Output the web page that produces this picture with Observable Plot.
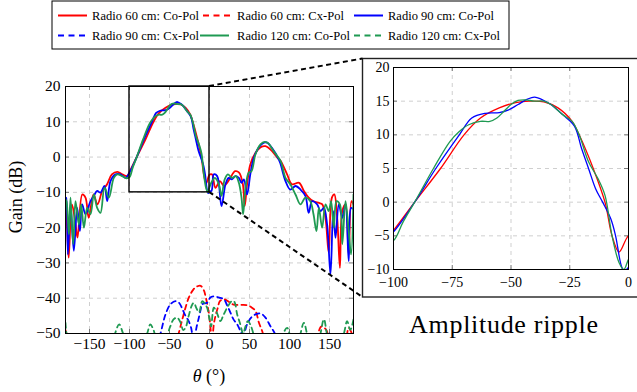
<!DOCTYPE html>
<html><head><meta charset="utf-8">
<script src="https://cdn.jsdelivr.net/npm/d3@7"></script>
<script src="https://cdn.jsdelivr.net/npm/@observablehq/plot@0.6"></script>
<style>
body{margin:0;background:#fff;}
#wrap{position:relative;width:637px;height:392px;overflow:hidden;font-family:"Liberation Serif","Times New Roman",serif;}
#wrap > *{position:absolute;}
#wrap text{font-family:"Liberation Serif","Times New Roman",serif;}
</style></head><body><div id="wrap"></div>
<script>
// ---------- data ----------
const thetaTicks = [-150, -100, -50, 0, 50, 100, 150];
const gainTicks = [-50, -40, -30, -20, -10, 0, 10, 20];
const insetThetaTicks = [-100, -75, -50, -25, 0];
const insetGainTicks = [-10, -5, 0, 5, 10, 15, 20];
const zoomTheta = [-100, 0];
const zoomGain = [-10, 20];
const seriesNames = ["Radio 60 cm: Co-Pol", "Radio 60 cm: Cx-Pol", "Radio 90 cm: Co-Pol",
                     "Radio 90 cm: Cx-Pol", "Radio 120 cm: Co-Pol", "Radio 120 cm: Cx-Pol"];

const co60 = [[-180,-14],[-178,-20],[-176,-28.5],[-172,-13.4],[-168,-18],[-165,-22.8],[-159,-10.6],[-155,-11.5],[-151,-17.2],[-145,-10.6],[-140,-13.4],[-134,-9.6],[-128,-7.7],[-122,-4.9],[-115,-4.2],[-109,-4.9],[-103,-5.4],
 [-100,-4.2],[-91,0],[-80,5],[-70,10],[-63,12.5],[-55,14],[-48,14.8],[-42,15],[-36,14.9],[-30,14],[-24,12],[-21,10],[-15,5],[-10,0],[-7,-5],[-4,-7.4],[0,-5],
 [3,-4.9],[7.5,-8.7],[13,-6.8],[18,-8.2],[22,-7.3],[26,-5.9],[32,-4],[37,-4.4],[41.7,-7.7],[44,-13.9],[47,-7.7],[51,-2.1],[57.5,1.2],[64,2.8],[70,3.1],[76,2.2],[85,-0.2],[89,-1.1],[97,-4.9],[103,-7.7],[112,-7.3],[118,-9.6],[124,-11.5],[130,-12.5],[137,-13],[141,-13.4],[145,-17.2],[149,-27.1],[153,-11.5],[156,-10.6],[159.6,-17.2],[163,-31.4],[166,-15.3],[170,-13.4],[174,-27.6],[177.5,-12.5],[180,-13.4]];

const co90 = [[-180,-13],[-178.75,-11.5],[-177,-27.6],[-173.75,-13.4],[-169.6,-26.6],[-165.4,-14.4],[-162,-21],[-159.2,-13.4],[-155,-16.2],[-148.75,-12.5],[-144.6,-11],[-140.4,-9.6],[-136.25,-10.1],[-131.25,-8.2],[-127.9,-12.5],[-123.75,-6.8],[-117.5,-4.9],[-111.25,-4.9],[-105,-5.9],
 [-100,-4.4],[-91,0],[-82,5],[-72,10],[-66.7,12.5],[-61,13.2],[-55,13.3],[-51,13.7],[-47,14.5],[-43,15.3],[-40,15.6],[-36,15.1],[-33,14.5],[-28,13],[-23,11.3],[-20,8],[-17,5],[-14,2],[-11,0],[-7.5,-2.5],[-5.5,-5],[-2.7,-9.8],[-1.5,-10.2],[0,-9.7],
 [2.5,-9.6],[5.4,-4.9],[9.6,-5.4],[15,-13.9],[20,-7.7],[24,-5.9],[28,-6.3],[32.5,-5.4],[36.7,-5.9],[40,-7.3],[43,-6.3],[47,-10.6],[51,-4.9],[55.4,-0.2],[61.7,2.8],[68,4.1],[72,4.1],[78,2.6],[86.7,-0.7],[89,-2.1],[95,-6.8],[101,-9.2],[107.5,-8.2],[113.75,-9.2],[120,-11.1],[124,-15.8],[128.3,-12.5],[134.6,-13.4],[138.75,-15.3],[143,-14.4],[147,-19.1],[151.25,-33.2],[154.6,-15.3],[157.5,-22.9],[161.7,-13.4],[166,-17.2],[170,-13.4],[174,-29.5],[177,-14.4],[180,-14.8]];

const co120 = [[-180,-12],[-178.75,-12.5],[-175.8,-21.9],[-173.75,-11.5],[-170.4,-24.7],[-167.5,-12.5],[-163.3,-19.1],[-160.4,-13.4],[-157,-20],[-152.9,-14.4],[-148.75,-16.2],[-144.6,-10.6],[-140.4,-14.4],[-136.25,-15.8],[-131.25,-8.7],[-125.8,-11.5],[-119.6,-5.9],[-115.4,-4.9],[-109.2,-5.4],[-104,-6],
 [-100,-5.7],[-96,-3],[-91,0],[-83,5],[-76,9],[-72,10.5],[-68,11.5],[-63,12],[-59,12],[-56,12.5],[-53,13.5],[-50,14.5],[-47,15.1],[-44,15.2],[-40,15],[-36,15],[-33,14.5],[-28,13],[-24,12],[-21,10],[-17,6],[-13,3.5],[-10,1],[-7,-5],[-4,-9],[-2,-10],[0,-8.5],
 [3.3,-6.8],[6.7,-5.9],[11.7,-7.7],[15,-11],[19,-6.3],[23,-4.9],[28,-5.9],[33,-5.4],[36.7,-7.3],[40,-11.5],[42,-16.2],[45,-8.7],[49,-4.4],[52.5,-4],[57.5,0.8],[63.75,3.6],[69,4.3],[74,3.8],[80,1.7],[88.75,-1.1],[95,-5.9],[101,-7.7],[107.5,-10.6],[113.75,-13.4],[120,-11.5],[126,-12.5],[130,-16.2],[133.75,-21],[136.7,-14.4],[140.8,-20],[145,-13.4],[149,-15.3],[152,-12.5],[155.4,-20],[158.75,-12.5],[163,-13.4],[166,-24.7],[170,-12.5],[174,-21],[177,-27.6],[180,-10.6]];

const cx60 = [[-180,-49],[-176,-52],[-170,-56],[-150,-56],[-130,-55],[-100,-56],[-70,-55],[-45,-55],[-38,-49.5],[-34,-46],[-30,-42.7],[-26,-39.9],[-20,-37.5],[-15,-36.6],[-11,-36.5],[-7,-37.8],[-5,-39.4],[-2,-42.7],[0.4,-46.5],[2,-49.8],[3.5,-51],[5.4,-47.4],[7.5,-45],[10.4,-42.7],[13,-40.8],[18,-40.3],[24,-41],[30,-41.8],[40,-41.9],[47,-42],[52,-42.5],[57.5,-43.6],[61.7,-46.9],[65.8,-49.3],[68,-51],[75,-56],[100,-56],[125,-55],[134,-51],[140,-48],[146,-49],[150,-52],[160,-55],[170,-52],[174,-48.4],[178,-50],[180,-51]];

const cx90 = [[-180,-55],[-150,-56],[-120,-56],[-90,-55],[-70,-56],[-64,-52],[-61,-49.8],[-55,-44.6],[-48.75,-41.7],[-42.5,-40.8],[-38,-41.3],[-34,-43],[-30,-45],[-26,-46.5],[-23,-48.4],[-21.7,-49.8],[-19,-51],[-16,-48],[-13.3,-45.5],[-11,-43.2],[-9,-41.7],[-3,-41.3],[1,-39.8],[5,-39.5],[12,-39.8],[18,-40.3],[22,-42],[26,-44],[30,-46],[34.6,-47.4],[38.75,-49.3],[42,-50.5],[47,-47.4],[52,-45.5],[57.5,-44.6],[63.75,-44.3],[70,-45.5],[76,-47.9],[80,-49.3],[84,-51],[95,-56],[120,-55],[145,-54],[150,-50],[153,-52],[165,-55],[172,-50],[176,-53],[180,-55]];

const cx120 = [[-180,-47],[-178,-51],[-170,-56],[-150,-55],[-130,-54],[-120,-51],[-113,-47.4],[-108,-50],[-100,-54],[-85,-53],[-78,-50],[-74,-47.4],[-70,-49],[-65,-52],[-55,-51],[-49,-48],[-45,-46],[-40.4,-45.5],[-36,-47],[-33,-49],[-30,-48.4],[-26,-45],[-22,-42],[-19.6,-41.3],[-16,-43],[-13,-44],[-9,-40.8],[-6,-41.5],[-3,-42.7],[0,-46],[2,-48],[5.4,-42.7],[9,-44],[13.75,-46.5],[17,-45],[22,-42.7],[28,-40.8],[31,-41],[34.6,-44.6],[38,-47],[42,-50],[45,-48],[48,-46.5],[52,-48],[56,-51],[62,-55],[80,-55],[90,-51],[97,-48.4],[102,-51],[110,-52],[118,-47],[124,-51],[135,-52],[143,-46],[148,-51],[160,-55],[168,-50],[172,-46.5],[176,-49],[180,-46]];

// ---------- styling ----------
const RED = "#ff0000", BLUE = "#0000ff", GREEN = "#1f9a52";
const styleOf = {
  [seriesNames[0]]: {stroke: RED, dash: null},
  [seriesNames[1]]: {stroke: RED, dash: "5,4"},
  [seriesNames[2]]: {stroke: BLUE, dash: null},
  [seriesNames[3]]: {stroke: BLUE, dash: "5,4"},
  [seriesNames[4]]: {stroke: GREEN, dash: null},
  [seriesNames[5]]: {stroke: GREEN, dash: "5,4"}
};
const seriesData = [co60, cx60, co90, cx90, co120, cx120];
const tables = seriesNames.map((name, i) => seriesData[i].map(([theta, gain]) => ({series: name, theta, gain})));
const font = "Liberation Serif";
const gridStyle = {stroke: "#cfcfcf", strokeOpacity: 1, strokeDasharray: "4,4", strokeWidth: 1};

const wrap = document.getElementById("wrap");

// ---------- main plot ----------
const mainW = 360, mainH = 342, mT = 36, mB = 59, mL = 65, mR = 7;
const fw = mainW - mL - mR, fh = mainH - mT - mB;
const lineMarks = (w) => tables.map((t, i) => Plot.line(t, {
  x: "theta", y: "gain", stroke: styleOf[seriesNames[i]].stroke,
  strokeDasharray: styleOf[seriesNames[i]].dash, strokeWidth: w,
  curve: "catmull-rom", clip: true
}));
const orderMain = (w) => { const m = lineMarks(w); return [m[1], m[3], m[5], m[0], m[2], m[4]]; };

const main = Plot.plot({
  width: mainW, height: mainH, marginTop: mT, marginBottom: mB, marginLeft: mL, marginRight: mR,
  x: {domain: [-180, 180]}, y: {domain: [-50, 20]},
  style: {fontFamily: font, fontSize: "15px", color: "black", background: "transparent", overflow: "visible"},
  marks: [
    Plot.gridX(thetaTicks, gridStyle),
    Plot.gridY(gainTicks, gridStyle),
    Plot.ruleX(thetaTicks, {stroke: "#777", insetTop: fh - 4}),
    Plot.ruleX(thetaTicks, {stroke: "#777", insetBottom: fh - 4}),
    Plot.ruleY(gainTicks, {stroke: "#777", insetRight: fw - 4}),
    Plot.ruleY(gainTicks, {stroke: "#777", insetLeft: fw - 4}),
    ...orderMain(1.8),
    Plot.rect([{t1: zoomTheta[0], t2: zoomTheta[1], g1: zoomGain[0], g2: zoomGain[1]}],
      {x1: "t1", x2: "t2", y1: "g1", y2: "g2", fill: "none", stroke: "black", strokeWidth: 1.4}),
    Plot.frame({stroke: "black", strokeWidth: 1}),
    Plot.axisX(thetaTicks, {tickSize: 0, tickPadding: 4, label: null, fontSize: 15.5, fontFamily: font}),
    Plot.axisY(gainTicks, {tickSize: 0, tickPadding: 5, label: null, fontSize: 15.5, fontFamily: font})
  ]
});
main.style.left = "0px"; main.style.top = "50px";
wrap.appendChild(main);

// ---------- inset ----------
const inW = 275, inH = 238, iT = 8, iB = 28, iL = 31, iR = 9;
const ifw = inW - iL - iR, ifh = inH - iT - iB;
const inset = Plot.plot({
  width: inW, height: inH, marginTop: iT, marginBottom: iB, marginLeft: iL, marginRight: iR,
  x: {domain: [-100, 0]}, y: {domain: [-10, 20]},
  style: {fontFamily: font, fontSize: "14px", color: "black", background: "transparent", overflow: "visible"},
  marks: [
    Plot.gridX(insetThetaTicks, gridStyle),
    Plot.gridY(insetGainTicks, gridStyle),
    Plot.ruleX(insetThetaTicks, {stroke: "#777", insetTop: ifh - 4}),
    Plot.ruleX(insetThetaTicks, {stroke: "#777", insetBottom: ifh - 4}),
    Plot.ruleY(insetGainTicks, {stroke: "#777", insetRight: ifw - 4}),
    Plot.ruleY(insetGainTicks, {stroke: "#777", insetLeft: ifw - 4}),
    ...[0, 2, 4].map(i => Plot.line(tables[i], {
      x: "theta", y: "gain", stroke: styleOf[seriesNames[i]].stroke, strokeWidth: 1.3,
      curve: "catmull-rom", clip: true
    })),
    Plot.frame({stroke: "black", strokeWidth: 1}),
    Plot.axisX(insetThetaTicks, {tickSize: 0, tickPadding: 8, label: null, fontSize: 14, fontFamily: font}),
    Plot.axisY(insetGainTicks, {tickSize: 0, tickPadding: 4, label: null, fontSize: 14, fontFamily: font})
  ]
});
inset.style.left = "362px"; inset.style.top = "59px";
wrap.appendChild(inset);

// ---------- overlay: legend, inset box, connectors, labels ----------
const NS = "http://www.w3.org/2000/svg";
const ov = document.createElementNS(NS, "svg");
ov.setAttribute("width", 637); ov.setAttribute("height", 392);
ov.style.left = "0px"; ov.style.top = "0px";
wrap.appendChild(ov);
function el(tag, attrs, text) {
  const e = document.createElementNS(NS, tag);
  for (const k in attrs) e.setAttribute(k, attrs[k]);
  if (tag === "text") e.setAttribute("font-family", font);
  if (text != null) e.textContent = text;
  ov.appendChild(e); return e;
}
// inset box
el("rect", {x: 362.5, y: 58.5, width: 300, height: 238.5, fill: "none", stroke: "#222", "stroke-width": 1.4});
// connectors
const sx = main.scale("x"), sy = main.scale("y");
const cx0 = sx.apply(zoomTheta[1]);
el("line", {x1: cx0, y1: sy.apply(zoomGain[1]) + 50, x2: 362.5, y2: 58.5, stroke: "black", "stroke-width": 2, "stroke-dasharray": "5,3.5"});
el("line", {x1: cx0, y1: sy.apply(zoomGain[0]) + 50, x2: 362.5, y2: 297, stroke: "black", "stroke-width": 2, "stroke-dasharray": "5,3.5"});
// legend
el("rect", {x: 52, y: 1, width: 457, height: 48, fill: "white", stroke: "black", "stroke-width": 1});
const legPos = [[58, 92, 15.5], [203, 237, 15.5], [354, 388, 15.5], [58, 92, 35.5], [200, 237, 35.5], [354, 388, 35.5]];
const legLen = [107, 107, 106, 107, 113, 112];
seriesNames.forEach((name, i) => {
  const [lx, tx, y] = legPos[i];
  el("line", {x1: lx, y1: y, x2: lx + 29, y2: y, stroke: styleOf[name].stroke, "stroke-width": 2,
    "stroke-dasharray": styleOf[name].dash ? "6,4.5" : "none"});
  el("text", {x: tx, y: y + 4, "font-size": 12.5, textLength: legLen[i], lengthAdjust: "spacing"}, name);
});
// axis labels
el("text", {x: 0, y: 0, "font-size": 18, "text-anchor": "middle", transform: "translate(22,197) rotate(-90)"}, "Gain (dB)");
const xl = el("text", {x: 209, y: 382, "font-size": 18, "text-anchor": "middle"});
const th = document.createElementNS(NS, "tspan"); th.setAttribute("font-style", "italic"); th.textContent = "θ"; xl.appendChild(th);
xl.appendChild(document.createTextNode(" (°)"));
el("text", {x: 503.5, y: 333, "font-size": 26, "text-anchor": "middle", textLength: 189, lengthAdjust: "spacing"}, "Amplitude ripple");
</script></body></html>
